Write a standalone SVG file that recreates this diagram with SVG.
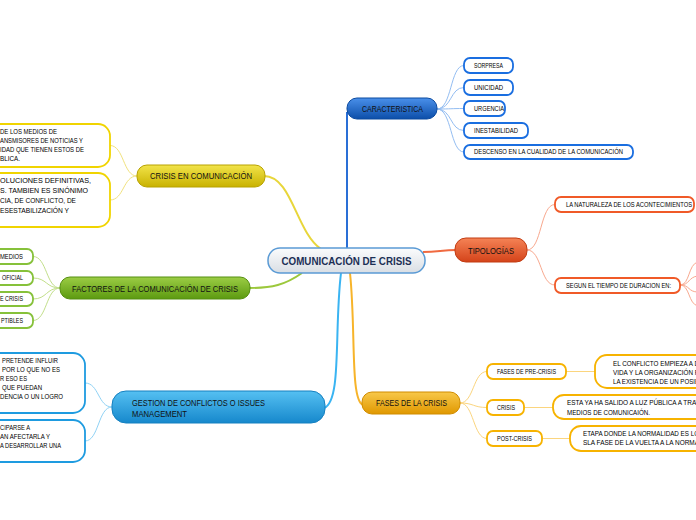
<svg xmlns="http://www.w3.org/2000/svg" width="696" height="520" viewBox="0 0 696 520">
<defs>
<linearGradient id="gCenter" x1="0" y1="0" x2="0" y2="1"><stop offset="0" stop-color="#fbfcfd"/><stop offset="1" stop-color="#d9dee4"/></linearGradient>
<linearGradient id="gBlue" x1="0" y1="0" x2="0" y2="1"><stop offset="0" stop-color="#4a90ea"/><stop offset="1" stop-color="#0c4ea9"/></linearGradient>
<linearGradient id="gRed" x1="0" y1="0" x2="0" y2="1"><stop offset="0" stop-color="#f58356"/><stop offset="1" stop-color="#d4431a"/></linearGradient>
<linearGradient id="gYellow" x1="0" y1="0" x2="0" y2="1"><stop offset="0" stop-color="#f2e44a"/><stop offset="1" stop-color="#c9b200"/></linearGradient>
<linearGradient id="gGreen" x1="0" y1="0" x2="0" y2="1"><stop offset="0" stop-color="#9ccd45"/><stop offset="1" stop-color="#5c9a10"/></linearGradient>
<linearGradient id="gSky" x1="0" y1="0" x2="0" y2="1"><stop offset="0" stop-color="#55c0f2"/><stop offset="1" stop-color="#1688cc"/></linearGradient>
<linearGradient id="gOrange" x1="0" y1="0" x2="0" y2="1"><stop offset="0" stop-color="#f8c84a"/><stop offset="1" stop-color="#e09800"/></linearGradient>
</defs>
<style>
text{font-family:"Liberation Sans",Arial,sans-serif;fill:#111;}
.main{font-size:9px;}
.small{font-size:6.5px;fill:#000;}
.center{font-size:11.5px;font-weight:bold;fill:#1c2f55;}
.sub{fill:#fff;stroke-width:1.8;}
.sb{stroke:#1a6ee0;}
.sr{stroke:#f05a28;}
.sg{stroke:#86c13a;}
.sy{stroke:#f0d400;}
.ss{stroke:#1e9be0;}
.so{stroke:#f7b300;}
.c{fill:none;stroke-width:1;}
.cb{stroke:#93bdf2;}
.cr{stroke:#f8a88e;}
.cg{stroke:#c2df8a;}
.cy{stroke:#f1e27e;}
.cs{stroke:#8fd2f5;}
.co{stroke:#fbd57e;}
.m{fill:none;stroke-width:2;}
</style>
<g id="connectors">
<path class="m" stroke="#2a6fd6" d="M347,249 V112"/>
<path class="m" stroke="#f06a40" d="M423,252 C438,252 442,250 456,250"/>
<path class="m" stroke="#e8d63a" d="M264,176 C292,176 296,232 321,249"/>
<path class="m" stroke="#9cc83c" d="M302,273 C285,285 272,288 249,288"/>
<path class="m" stroke="#3ab4f2" d="M341,273 C334,330 342,402 324,408"/>
<path class="m" stroke="#f7b42a" d="M350,273 C356,330 350,400 363,405"/>
<path class="c cb" d="M437,109 C452,109 450,65.5 464,65.5"/>
<path class="c cb" d="M437,109 C452,109 450,87.5 464,87.5"/>
<path class="c cb" d="M437,109 C452,109 450,108.5 464,108.5"/>
<path class="c cb" d="M437,109 C452,109 450,130.5 464,130.5"/>
<path class="c cb" d="M437,109 C452,109 450,152 464,152"/>
<path class="c cr" d="M527,250 C542,250 540,204.5 555,204.5"/>
<path class="c cr" d="M527,250 C542,250 540,285 555,285"/>
<path class="c cr" d="M680,285 C690,285 688,264 698,262"/>
<path class="c cr" d="M680,285 C690,285 688,277 698,276"/>
<path class="c cr" d="M680,285 C690,285 688,292 698,292"/>
<path class="c cr" d="M680,285 C690,285 688,304 698,306"/>
<path class="c cg" d="M60,288 C46,288 47,256.5 33,256.5"/>
<path class="c cg" d="M60,288 C46,288 47,278 33,278"/>
<path class="c cg" d="M60,288 C46,288 47,299 33,299"/>
<path class="c cg" d="M60,288 C46,288 47,320.5 33,320.5"/>
<path class="c cy" d="M137,176 C123,176 124,145.5 110,145.5"/>
<path class="c cy" d="M137,176 C123,176 124,200 110,200"/>
<path class="c cs" d="M112,407 C98,407 99,383 85,383"/>
<path class="c cs" d="M112,407 C98,407 99,441 85,441"/>
<path class="c co" d="M460,403 C474,403 473,371.5 487,371.5"/>
<path class="c co" d="M460,403 C474,403 473,407.5 487,407.5"/>
<path class="c co" d="M460,403 C474,403 473,438.5 487,438.5"/>
<path class="c co" d="M566,371.5 H595"/>
<path class="c co" d="M524,407.5 H553"/>
<path class="c co" d="M542,438.5 H570"/>
</g>
<g id="n-center">
<rect x="268" y="248" width="157" height="25" rx="12" fill="url(#gCenter)" stroke="#5b9bd5" stroke-width="1.5"/>
<text class="center" x="346.5" y="264.8" text-anchor="middle" textLength="130" lengthAdjust="spacingAndGlyphs">COMUNICACIÓN DE CRISIS</text>
</g>
<g id="n-caracteristica">
<rect x="347" y="98" width="90" height="21" rx="10" fill="url(#gBlue)" stroke="#0b4aa0"/>
<text class="main" x="392.5" y="112" text-anchor="middle" textLength="61" lengthAdjust="spacingAndGlyphs">CARACTERISTICA</text>
</g>
<g id="n-sorpresa"><rect class="sub sb" x="464" y="58" width="49" height="15" rx="6"/><text class="small" x="474" y="67.8" textLength="29" lengthAdjust="spacingAndGlyphs">SORPRESA</text></g>
<g id="n-unicidad"><rect class="sub sb" x="464" y="80" width="49" height="15" rx="6"/><text class="small" x="474" y="89.8" textLength="29" lengthAdjust="spacingAndGlyphs">UNICIDAD</text></g>
<g id="n-urgencia"><rect class="sub sb" x="464" y="101" width="41" height="15" rx="6"/><text class="small" x="474" y="110.8" textLength="30" lengthAdjust="spacingAndGlyphs">URGENCIA</text></g>
<g id="n-inestabilidad"><rect class="sub sb" x="464" y="123" width="64" height="15" rx="6"/><text class="small" x="474" y="132.8" textLength="44" lengthAdjust="spacingAndGlyphs">INESTABILIDAD</text></g>
<g id="n-descenso"><rect class="sub sb" x="464" y="145" width="169" height="14" rx="6"/><text class="small" x="474" y="154.3" textLength="149" lengthAdjust="spacingAndGlyphs">DESCENSO EN LA CUALIDAD DE LA COMUNICACIÓN</text></g>
<g id="n-tipologias">
<rect x="455" y="238" width="72" height="24" rx="11" fill="url(#gRed)" stroke="#c23c12"/>
<text class="main" x="491" y="253.5" text-anchor="middle" textLength="46" lengthAdjust="spacingAndGlyphs">TIPOLOGÍAS</text>
</g>
<g id="n-naturaleza"><rect class="sub sr" x="555" y="197" width="139" height="15" rx="6"/><text class="small" x="566" y="206.8" textLength="126" lengthAdjust="spacingAndGlyphs">LA NATURALEZA DE LOS ACONTECIMIENTOS</text></g>
<g id="n-tiempo"><rect class="sub sr" x="555" y="278" width="125" height="15" rx="6"/><text class="small" x="566" y="287.8" textLength="105" lengthAdjust="spacingAndGlyphs">SEGUN EL TIEMPO DE DURACION EN:</text></g>
<g id="n-crisiscom">
<rect x="137" y="165" width="128" height="22" rx="10" fill="url(#gYellow)" stroke="#b8a200"/>
<text class="main" x="201" y="179.2" text-anchor="middle" textLength="102" lengthAdjust="spacingAndGlyphs">CRISIS EN COMUNICACIÓN</text>
</g>
<g id="n-crisiscom-1">
<rect class="sub sy" x="-20" y="124" width="130" height="43" rx="12"/>
<text class="small" x="0" y="134.2" textLength="57" lengthAdjust="spacingAndGlyphs">DE LOS MEDIOS DE</text>
<text class="small" x="0" y="143.2" textLength="83" lengthAdjust="spacingAndGlyphs">ANSMISORES DE NOTICIAS Y</text>
<text class="small" x="0" y="152.2" textLength="84" lengthAdjust="spacingAndGlyphs">IDAD QUE TIENEN ESTOS DE</text>
<text class="small" x="0" y="161.2" textLength="20" lengthAdjust="spacingAndGlyphs">BLICA.</text>
</g>
<g id="n-crisiscom-2">
<rect class="sub sy" x="-20" y="173" width="130" height="54" rx="12"/>
<text class="small" x="0" y="182.7" textLength="91" lengthAdjust="spacingAndGlyphs">OLUCIONES DEFINITIVAS,</text>
<text class="small" x="0" y="193.2" textLength="88" lengthAdjust="spacingAndGlyphs">S. TAMBIEN ES SINÓNIMO</text>
<text class="small" x="0" y="203.2" textLength="76" lengthAdjust="spacingAndGlyphs">CIA, DE CONFLICTO, DE</text>
<text class="small" x="0" y="213.2" textLength="69" lengthAdjust="spacingAndGlyphs">ESESTABILIZACIÓN Y</text>
</g>
<g id="n-factores">
<rect x="60" y="277" width="190" height="22" rx="10" fill="url(#gGreen)" stroke="#558f10"/>
<text class="main" x="155" y="291.5" text-anchor="middle" textLength="166" lengthAdjust="spacingAndGlyphs">FACTORES DE LA COMUNICACIÓN DE CRISIS</text>
</g>
<g id="n-factores-1"><rect class="sub sg" x="-20" y="249" width="53" height="15" rx="6"/><text class="small" x="23" y="258.8" text-anchor="end" textLength="23" lengthAdjust="spacingAndGlyphs">MEDIOS</text></g>
<g id="n-factores-2"><rect class="sub sg" x="-20" y="271" width="53" height="14" rx="6"/><text class="small" x="23" y="280.3" text-anchor="end" textLength="21" lengthAdjust="spacingAndGlyphs">OFICIAL</text></g>
<g id="n-factores-3"><rect class="sub sg" x="-20" y="292" width="53" height="14" rx="6"/><text class="small" x="23" y="301.3" text-anchor="end" textLength="23" lengthAdjust="spacingAndGlyphs">E CRISIS</text></g>
<g id="n-factores-4"><rect class="sub sg" x="-20" y="313" width="53" height="15" rx="6"/><text class="small" x="23" y="322.8" text-anchor="end" textLength="22" lengthAdjust="spacingAndGlyphs">PTIBLES</text></g>
<g id="n-gestion">
<rect x="112" y="391" width="213" height="32" rx="14" fill="url(#gSky)" stroke="#1580c0"/>
<text class="main" x="132" y="406" textLength="133" lengthAdjust="spacingAndGlyphs">GESTION DE CONFLICTOS O ISSUES</text>
<text class="main" x="132" y="416.5" textLength="55" lengthAdjust="spacingAndGlyphs">MANAGEMENT</text>
</g>
<g id="n-gestion-1">
<rect class="sub ss" x="-20" y="353" width="105" height="60" rx="12"/>
<text class="small" x="2" y="363.2" textLength="56" lengthAdjust="spacingAndGlyphs">PRETENDE INFLUIR</text>
<text class="small" x="2" y="372.2" textLength="58" lengthAdjust="spacingAndGlyphs">POR LO QUE NO ES</text>
<text class="small" x="0" y="381.2" textLength="27" lengthAdjust="spacingAndGlyphs">R ESO ES</text>
<text class="small" x="2" y="390.2" textLength="40" lengthAdjust="spacingAndGlyphs">QUE PUEDAN</text>
<text class="small" x="0" y="399.2" textLength="63" lengthAdjust="spacingAndGlyphs">DENCIA O UN LOGRO</text>
</g>
<g id="n-gestion-2">
<rect class="sub ss" x="-20" y="420" width="105" height="42" rx="12"/>
<text class="small" x="0" y="429.7" textLength="30" lengthAdjust="spacingAndGlyphs">CIPARSE A</text>
<text class="small" x="0" y="438.7" textLength="50" lengthAdjust="spacingAndGlyphs">AN AFECTARLA Y</text>
<text class="small" x="0" y="447.7" textLength="61" lengthAdjust="spacingAndGlyphs">A DESARROLLAR UNA</text>
</g>
<g id="n-fases">
<rect x="362" y="392" width="98" height="22" rx="10" fill="url(#gOrange)" stroke="#d08c00"/>
<text class="main" x="411.5" y="406.2" text-anchor="middle" textLength="71" lengthAdjust="spacingAndGlyphs">FASES DE LA CRISIS</text>
</g>
<g id="n-precrisis"><rect class="sub so" x="487" y="364" width="79" height="15" rx="6"/><text class="small" x="497" y="373.8" textLength="59" lengthAdjust="spacingAndGlyphs">FASES DE PRE-CRISIS</text></g>
<g id="n-crisis"><rect class="sub so" x="487" y="400" width="37" height="15" rx="6"/><text class="small" x="497" y="409.8" textLength="18" lengthAdjust="spacingAndGlyphs">CRISIS</text></g>
<g id="n-postcrisis"><rect class="sub so" x="487" y="431" width="55" height="15" rx="6"/><text class="small" x="497" y="440.8" textLength="35" lengthAdjust="spacingAndGlyphs">POST-CRISIS</text></g>
<g id="n-precrisis-1">
<rect class="sub so" x="595" y="355" width="140" height="33" rx="12"/>
<text class="small" x="613" y="366.2" textLength="86" lengthAdjust="spacingAndGlyphs">EL CONFLICTO EMPIEZA A D</text>
<text class="small" x="613" y="375.2" textLength="86" lengthAdjust="spacingAndGlyphs">VIDA Y LA ORGANIZACIÓN P</text>
<text class="small" x="613" y="384.2" textLength="86" lengthAdjust="spacingAndGlyphs">LA EXISTENCIA DE UN POSIB</text>
</g>
<g id="n-crisis-1">
<rect class="sub so" x="553" y="395" width="170" height="24" rx="11"/>
<text class="small" x="567" y="405.2" textLength="133" lengthAdjust="spacingAndGlyphs">ESTA YA HA SALIDO A LUZ PÚBLICA A TRAV</text>
<text class="small" x="567" y="415.2" textLength="83" lengthAdjust="spacingAndGlyphs">MEDIOS DE COMUNICAIÓN.</text>
</g>
<g id="n-postcrisis-1">
<rect class="sub so" x="570" y="426" width="160" height="25" rx="11"/>
<text class="small" x="583" y="436.2" textLength="116" lengthAdjust="spacingAndGlyphs">ETAPA DONDE LA NORMALIDAD ES LO</text>
<text class="small" x="583" y="445.2" textLength="116" lengthAdjust="spacingAndGlyphs">SLA FASE DE LA VUELTA A LA NORMA</text>
</g>
</svg>
